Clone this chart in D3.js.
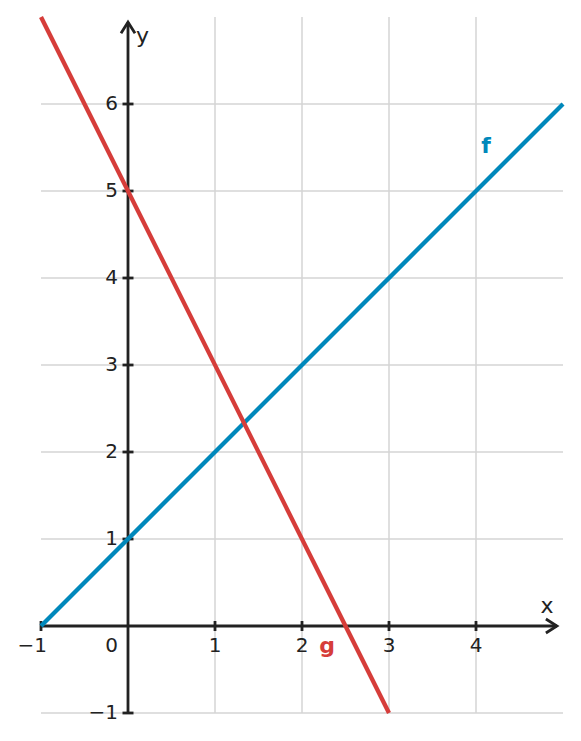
<!DOCTYPE html>
<html><head><meta charset="utf-8">
<script src="https://cdn.jsdelivr.net/npm/d3@7"></script>
<style>body{margin:0;background:#fff}svg{display:block}text{font-family:"DejaVu Sans",sans-serif}</style>
</head><body>
<script>
const xDomain = [-1, 5];
const yDomain = [-1, 7];
const xTicks = [-1, 1, 2, 3, 4];
const yTicks = [-1, 1, 2, 3, 4, 5, 6];
const xGrid = [1, 2, 3, 4];
const yGrid = [-1, 1, 2, 3, 4, 5, 6];
const fX = [-1, 5];
const fY = [0, 6];
const gX = [-1, 3];
const gY = [7, -1];
const lineNames = ["f", "g"];
const lineColors = ["#0088bb", "#d63d3a"];

const W = 581, H = 741;
const x = d3.scaleLinear().domain(xDomain).range([41, 563]);
const y = d3.scaleLinear().domain(yDomain).range([713, 17]);
const svg = d3.select("body").append("svg").attr("width", W).attr("height", H);

const grid = svg.append("g").attr("stroke", "#d4d4d4").attr("stroke-width", 1.5);
grid.selectAll("line.v").data(xGrid).join("line").attr("class","v")
  .attr("x1", d => x(d)).attr("x2", d => x(d)).attr("y1", y(-1)).attr("y2", y(7));
grid.selectAll("line.h").data(yGrid).join("line").attr("class","h")
  .attr("y1", d => y(d)).attr("y2", d => y(d)).attr("x1", x(-1)).attr("x2", x(5));

const ax = svg.append("g").attr("stroke", "#222").attr("stroke-width", 2.8).attr("fill", "none");
ax.append("line").attr("x1", x(-1)).attr("x2", x(4.93)).attr("y1", y(0)).attr("y2", y(0));
ax.append("path").attr("d", `M${x(4.93)-11},${y(0)-7} L${x(4.93)},${y(0)} L${x(4.93)-11},${y(0)+7}`);
ax.append("line").attr("x1", x(0)).attr("x2", x(0)).attr("y1", y(-1)).attr("y2", y(6.94));
ax.append("path").attr("d", `M${x(0)-7},${y(6.94)+11} L${x(0)},${y(6.94)} L${x(0)+7},${y(6.94)+11}`);
ax.selectAll("line.xt").data(xTicks).join("line").attr("class","xt")
  .attr("x1", d => x(d)).attr("x2", d => x(d)).attr("y1", y(0)-5).attr("y2", y(0)+5);
ax.selectAll("line.yt").data(yTicks).join("line").attr("class","yt")
  .attr("y1", d => y(d)).attr("y2", d => y(d)).attr("x1", x(0)-5.5).attr("x2", x(0)+5.5);

const fmt = d => d < 0 ? "\u2212" + Math.abs(d) : String(d);
const lab = svg.append("g").attr("fill", "#222").attr("font-size", 20);
lab.selectAll("text.xl").data(xTicks).join("text").attr("class","xl")
  .attr("x", d => d < 0 ? x(d) + 6 : x(d)).attr("y", y(0) + 26)
  .attr("text-anchor", d => d < 0 ? "end" : "middle").text(fmt);
lab.selectAll("text.yl").data(yTicks).join("text").attr("class","yl")
  .attr("x", x(0) - 10).attr("y", d => y(d) + 6).attr("text-anchor", "end").text(fmt);
lab.append("text").attr("x", x(0) - 10).attr("y", y(0) + 26).attr("text-anchor", "end").text("0");
lab.append("text").attr("x", 547).attr("y", 613).attr("text-anchor", "middle").attr("font-size", 22).text("x");
lab.append("text").attr("x", 136).attr("y", 43).attr("font-size", 22).text("y");

const lines = [{xs: fX, ys: fY}, {xs: gX, ys: gY}];
const lineGen = d3.line().x(d => x(d[0])).y(d => y(d[1]));
svg.append("g").selectAll("path").data(lines).join("path")
  .attr("d", d => lineGen(d.xs.map((v, i) => [v, d.ys[i]])))
  .attr("fill", "none").attr("stroke", (d, i) => lineColors[i]).attr("stroke-width", 4.3);

svg.append("text").attr("x", 486).attr("y", 153).attr("text-anchor", "middle").attr("font-size", 22)
  .attr("font-weight", "bold").attr("fill", lineColors[0]).text(lineNames[0]);
svg.append("text").attr("x", 327).attr("y", 653).attr("text-anchor", "middle").attr("font-size", 22)
  .attr("font-weight", "bold").attr("fill", lineColors[1]).text(lineNames[1]);
</script>
</body></html>
